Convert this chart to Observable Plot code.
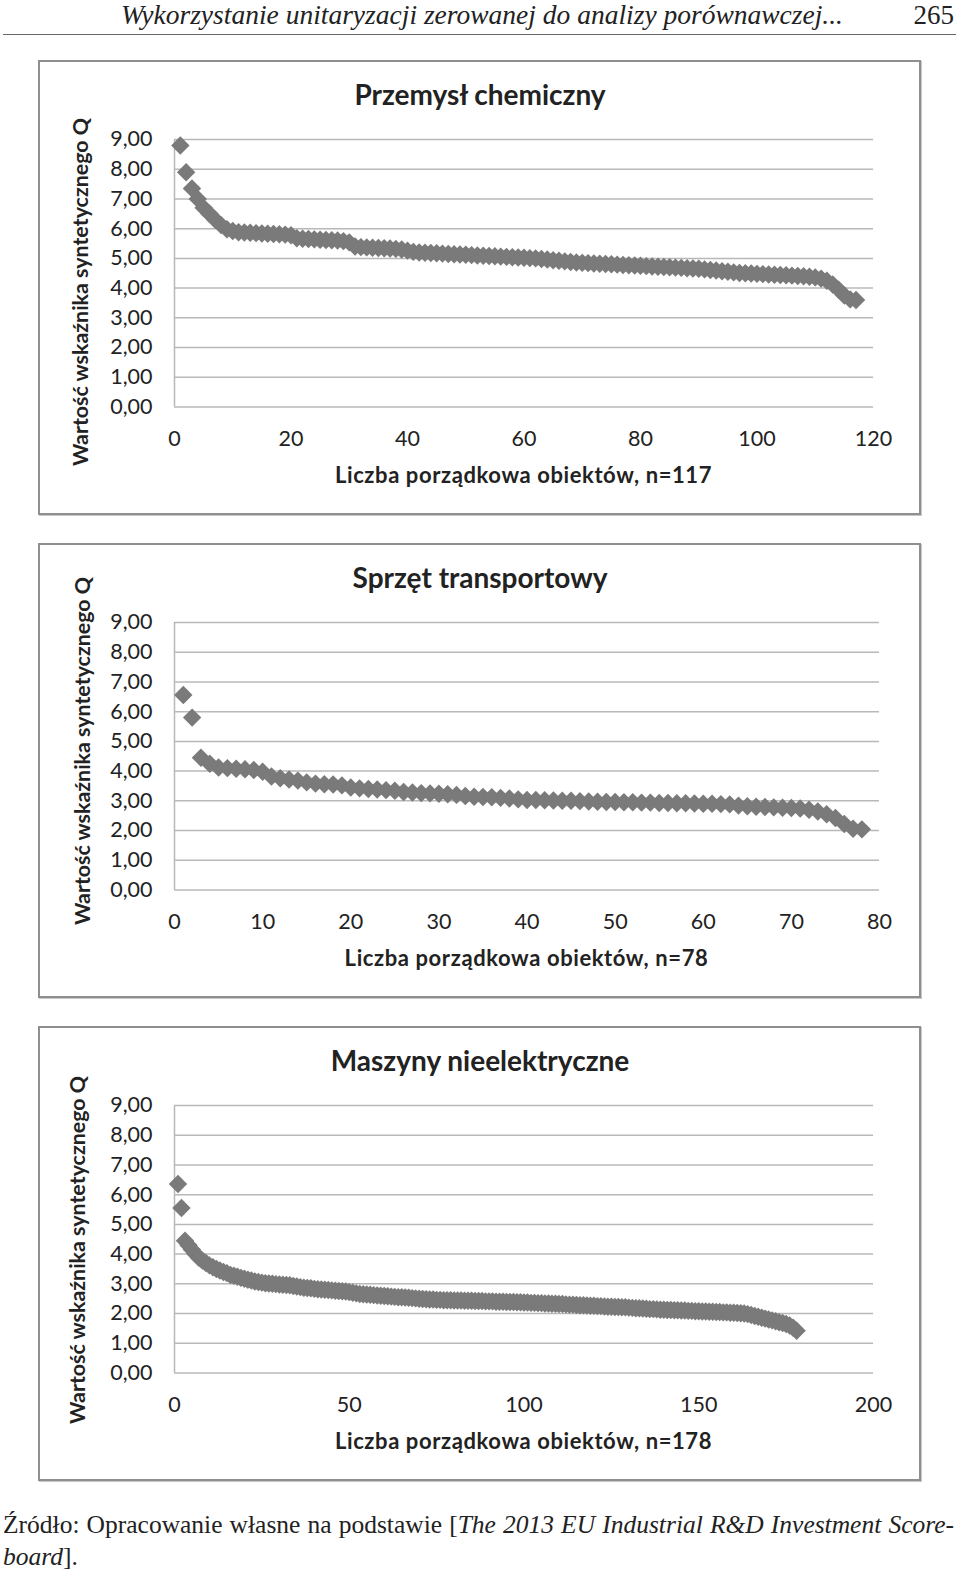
<!DOCTYPE html>
<html>
<head>
<meta charset="utf-8">
<script src="https://cdn.jsdelivr.net/npm/d3@7"></script>
<script src="https://cdn.jsdelivr.net/npm/@observablehq/plot@0.6"></script>
<style>
  html, body { margin: 0; padding: 0; background: #fff; }
  body { width: 960px; height: 1574px; position: relative; overflow: hidden; }
  .abs { position: absolute; }
  .header { font-family: "Liberation Serif", serif; font-style: italic; font-size: 27.5px; letter-spacing: 0px; color: #222; white-space: nowrap; line-height: 30px; }
  .pageno { font-family: "Liberation Serif", serif; font-size: 27px; color: #222; line-height: 30px; }
  .rule { background: #666; height: 1px; }
  .box { border: 2px solid #8f8f8f; box-shadow: 1px 1px 0 #c8c8c8; box-sizing: border-box; background: #fff; }
  .ptitle { font-family: Lato, sans-serif; font-weight: 700; font-size: 28px; color: #222; white-space: nowrap; transform: translate(-50%, -50%); }
  .xlab { font-family: Lato, sans-serif; font-weight: 700; font-size: 22px; letter-spacing: 0.6px; color: #222; white-space: nowrap; transform: translate(-50%, -50%); }
  .ylab { font-family: Lato, sans-serif; font-weight: 700; font-size: 21.4px; color: #222; white-space: nowrap; transform: translate(-50%, -50%) rotate(-90deg); }
  .caption { font-family: "Liberation Serif", serif; font-size: 25.5px; color: #222; line-height: 32px; }
  .plotwrap svg { overflow: visible; }
</style>
</head>
<body>
<script>
// ---------- data ----------
const panelTitles = ["Przemysł chemiczny", "Sprzęt transportowy", "Maszyny nieelektryczne"];
const xAxisLabels = ["Liczba porządkowa obiektów, n=117", "Liczba porządkowa obiektów, n=78", "Liczba porządkowa obiektów, n=178"];
const yAxisLabel = "Wartość wskaźnika syntetycznego Q";
const yTicks = [0, 1, 2, 3, 4, 5, 6, 7, 8, 9];
const chemicalXTicks = [0, 20, 40, 60, 80, 100, 120];
const transportXTicks = [0, 10, 20, 30, 40, 50, 60, 70, 80];
const machineryXTicks = [0, 50, 100, 150, 200];

const chemicalValues = [
  8.80, 7.90, 7.35, 7.00, 6.70, 6.50, 6.30, 6.12, 5.98, 5.92,
  5.88, 5.87, 5.86, 5.85, 5.84, 5.83, 5.82, 5.81, 5.80, 5.78,
  5.68, 5.66, 5.65, 5.64, 5.63, 5.62, 5.61, 5.60, 5.58, 5.54,
  5.40, 5.38, 5.37, 5.36, 5.35, 5.34, 5.33, 5.32, 5.30, 5.26,
  5.22, 5.20, 5.19, 5.18, 5.17, 5.16, 5.15, 5.14, 5.13, 5.12,
  5.11, 5.10, 5.09, 5.08, 5.07, 5.06, 5.05, 5.04, 5.03, 5.02,
  5.01, 5.00, 4.98, 4.96, 4.94, 4.92, 4.90, 4.88, 4.86, 4.85,
  4.84, 4.83, 4.82, 4.81, 4.80, 4.79, 4.78, 4.77, 4.76, 4.75,
  4.74, 4.73, 4.72, 4.71, 4.70, 4.69, 4.68, 4.67, 4.66, 4.65,
  4.63, 4.61, 4.59, 4.57, 4.55, 4.53, 4.51, 4.50, 4.49, 4.48,
  4.47, 4.46, 4.45, 4.44, 4.43, 4.42, 4.41, 4.40, 4.38, 4.36,
  4.32, 4.25, 4.12, 3.95, 3.75, 3.62, 3.60
];

const transportValues = [
  6.56, 5.80, 4.45, 4.25, 4.12, 4.10, 4.08, 4.06, 4.04, 3.98,
  3.82, 3.76, 3.72, 3.68, 3.62, 3.58, 3.56, 3.55, 3.52, 3.45,
  3.42, 3.40, 3.38, 3.36, 3.34, 3.30, 3.28, 3.26, 3.25, 3.24,
  3.22, 3.20, 3.16, 3.14, 3.13, 3.12, 3.10, 3.08, 3.05, 3.03,
  3.03, 3.02, 3.01, 3.00, 3.00, 2.99, 2.98, 2.97, 2.96, 2.96,
  2.95, 2.95, 2.94, 2.94, 2.93, 2.93, 2.92, 2.92, 2.91, 2.90,
  2.90, 2.89, 2.88, 2.84, 2.82, 2.80, 2.79, 2.78, 2.77, 2.76,
  2.74, 2.70, 2.64, 2.55, 2.42, 2.22, 2.06, 2.04
];

const machineryValues = [
  6.36, 5.55, 4.45, 4.30, 4.15, 4.00, 3.88, 3.78, 3.70, 3.62,
  3.56, 3.50, 3.45, 3.40, 3.36, 3.30, 3.27, 3.24, 3.20, 3.17,
  3.14, 3.11, 3.08, 3.06, 3.04, 3.02, 3.01, 3.00, 2.99, 2.98,
  2.97, 2.96, 2.95, 2.93, 2.91, 2.89, 2.87, 2.86, 2.85, 2.83,
  2.82, 2.81, 2.80, 2.79, 2.78, 2.77, 2.76, 2.75, 2.74, 2.72,
  2.70, 2.68, 2.66, 2.65, 2.64, 2.63, 2.62, 2.61, 2.60, 2.59,
  2.58, 2.57, 2.56, 2.55, 2.55, 2.54, 2.53, 2.52, 2.51, 2.50,
  2.49, 2.48, 2.47, 2.47, 2.46, 2.46, 2.45, 2.45, 2.45, 2.44,
  2.44, 2.44, 2.43, 2.43, 2.43, 2.42, 2.42, 2.42, 2.41, 2.41,
  2.41, 2.40, 2.40, 2.40, 2.39, 2.39, 2.39, 2.38, 2.38, 2.37,
  2.37, 2.36, 2.36, 2.35, 2.35, 2.34, 2.34, 2.33, 2.33, 2.32,
  2.32, 2.31, 2.30, 2.30, 2.29, 2.28, 2.28, 2.27, 2.26, 2.26,
  2.25, 2.25, 2.24, 2.23, 2.23, 2.22, 2.22, 2.21, 2.21, 2.20,
  2.19, 2.18, 2.18, 2.17, 2.16, 2.15, 2.15, 2.14, 2.13, 2.13,
  2.12, 2.12, 2.11, 2.11, 2.10, 2.10, 2.09, 2.09, 2.08, 2.08,
  2.07, 2.07, 2.06, 2.06, 2.05, 2.05, 2.04, 2.04, 2.03, 2.03,
  2.02, 2.01, 2.00, 1.98, 1.95, 1.92, 1.89, 1.86, 1.83, 1.80,
  1.77, 1.74, 1.71, 1.68, 1.65, 1.60, 1.52, 1.42
];

const headerText = "Wykorzystanie unitaryzacji zerowanej do analizy porównawczej...";
const pageNumber = "265";
const captionLine1 = "Źródło: Opracowanie własne na podstawie [<i>The 2013 EU Industrial R&amp;D Investment Score-</i>";
const captionLine2 = "<i>board</i>].";

// ---------- layout ----------
const body = document.body;
function el(cls, css, html) {
  const d = document.createElement("div");
  d.className = "abs " + cls;
  Object.assign(d.style, css);
  if (html != null) d.innerHTML = html;
  body.appendChild(d);
  return d;
}

el("header", {right: "117px", top: "0px"}, headerText);
el("pageno", {right: "6px", top: "0px"}, pageNumber);
el("rule", {left: "3px", top: "34px", width: "953px"});

const panels = [
  {values: chemicalValues, xTicks: chemicalXTicks, xMax: 120, top: 60, xRight: 873, ylabX: 80, ylabY: 292},
  {values: transportValues, xTicks: transportXTicks, xMax: 80, top: 543, xRight: 879, ylabX: 82, ylabY: 751},
  {values: machineryValues, xTicks: machineryXTicks, xMax: 200, top: 1026, xRight: 873, ylabX: 77, ylabY: 1250}
];

const H = 455;
const plotTop = 79;      // y = 9 relative to box top
const plotBottom = 346.5; // y = 0 relative to box top
const gridColor = "#b8b8b8";

panels.forEach((p, k) => {
  el("box", {left: "38px", top: p.top + "px", width: "883px", height: H + "px"});
  const data = p.values.map((q, i) => ({i: i + 1, q}));
  const chart = Plot.plot({
    width: 960,
    height: H,
    marginLeft: 174,
    marginRight: 960 - p.xRight,
    marginTop: plotTop,
    marginBottom: H - plotBottom,
    style: {fontFamily: "Lato, sans-serif", fontSize: "21px", color: "#222", background: "transparent", overflow: "visible"},
    x: {domain: [0, p.xMax], label: null},
    y: {domain: [0, 9], label: null},
    marks: [
      Plot.gridY(yTicks.slice(1), {stroke: gridColor, strokeOpacity: 1, strokeWidth: 1.5}),
      Plot.ruleY([0], {stroke: gridColor, strokeWidth: 1.5}),
      Plot.ruleX([0], {stroke: gridColor, strokeWidth: 1.5}),
      Plot.axisY(yTicks, {tickSize: 0, tickPadding: 22, fontSize: 21.5, label: null,
        tickFormat: d => d.toFixed(2).replace(".", ",")}),
      Plot.axisX(p.xTicks, {tickSize: 0, tickPadding: 24, fontSize: 21.5, label: null, tickFormat: d => String(d)}),
      Plot.dot(data, {x: "i", y: "q", symbol: d3.symbolDiamond2, r: 8.3, fill: "#7a7a7a", stroke: "none"})
    ]
  });
  const wrap = el("plotwrap", {left: "0px", top: p.top + "px", width: "960px", height: H + "px"});
  wrap.appendChild(chart);
  el("ptitle", {left: "480px", top: (p.top + 34) + "px"}, panelTitles[k]);
  el("xlab", {left: ((174 + p.xRight) / 2) + "px", top: (p.top + 414) + "px"}, xAxisLabels[k]);
  el("ylab", {left: p.ylabX + "px", top: p.ylabY + "px"}, yAxisLabel);
});

el("caption", {left: "3px", top: "1509px", width: "951px", textAlign: "justify", textAlignLast: "justify"}, captionLine1);
el("caption", {left: "3px", top: "1541px"}, captionLine2);
</script>
</body>
</html>
